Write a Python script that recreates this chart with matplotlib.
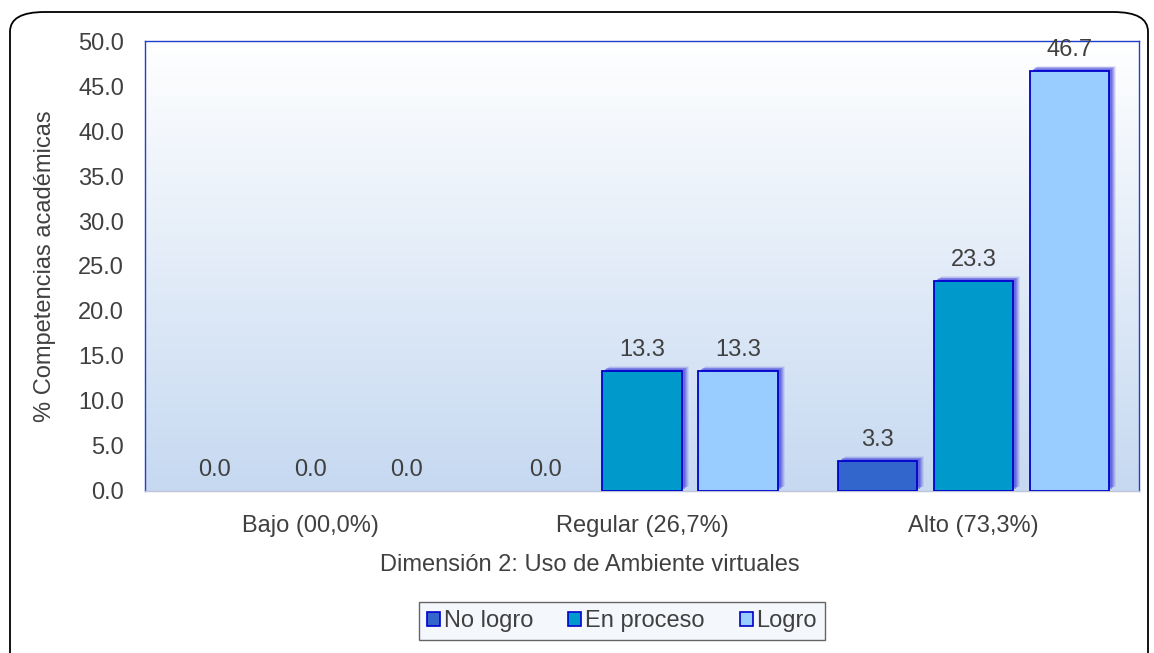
import numpy as np
import matplotlib
matplotlib.use("Agg")
import matplotlib.pyplot as plt
from matplotlib.patches import FancyBboxPatch, Rectangle
from matplotlib.transforms import ScaledTranslation

plt.rcParams['font.family'] = ['Liberation Sans', 'DejaVu Sans']

categories = ["Bajo (00,0%)", "Regular (26,7%)", "Alto (73,3%)"]
series_names = ["No logro", "En proceso", "Logro"]
no_logro = [0.0, 0.0, 3.3]
en_proceso = [0.0, 13.3, 23.3]
logro = [0.0, 13.3, 46.7]
yticks = [0, 5, 10, 15, 20, 25, 30, 35, 40, 45, 50]

colors = ["#3366CC", "#0099CC", "#99CCFF"]
edge = "#0000CC"
text_col = "#404040"
fs = 17

fig = plt.figure(figsize=(11.54, 6.53), dpi=100)
ax = fig.add_axes([0.1257, 0.2481, 0.8613, 0.6891])

# rounded outer frame
frame = FancyBboxPatch((10 / 1154, -0.05), 1138 / 1154, 1.0 - 12 / 653 + 0.05,
                       boxstyle="round,pad=0,rounding_size=0.03",
                       transform=fig.transFigure, fill=False,
                       edgecolor="black", linewidth=1.3, clip_on=False)
fig.patches.append(frame)

# gradient background
grad = np.linspace(0, 1, 256).reshape(-1, 1)
cmap = matplotlib.colors.LinearSegmentedColormap.from_list("bg", ["#C6D9F1", "#FFFFFF"])
ax.imshow(grad, aspect="auto", cmap=cmap, origin="lower",
          extent=[0, 1, 0, 1], transform=ax.transAxes, zorder=0)

x = np.arange(len(categories))
w = 0.24
step = 0.29
data = [no_logro, en_proceso, logro]

for i, (vals, c) in enumerate(zip(data, colors)):
    pos = x + (i - 1) * step
    # soft shadow behind the non-zero bars (offset up-right)
    for xp, v in zip(pos, vals):
        if v <= 0:
            continue
        for dx, dy, a in [(7, 5, 0.12), (6, 4, 0.18), (5, 3.5, 0.25), (4, 3, 0.35), (3, 2, 0.45)]:
            off = ScaledTranslation(dx / 100, dy / 100, fig.dpi_scale_trans)
            ax.add_patch(Rectangle((xp - w / 2, 0), w, v, facecolor="#5050DD",
                                   alpha=a, linewidth=0, zorder=2,
                                   transform=ax.transData + off))
    lw = [1.3 if v > 0 else 0 for v in vals]
    ax.bar(pos, vals, w, color=c, edgecolor=edge, linewidth=lw,
           label=series_names[i], zorder=3)
    for xp, v in zip(pos, vals):
        ax.text(xp, v + 1.1, f"{v:.1f}", ha="center", va="bottom",
                fontsize=fs, color=text_col, zorder=4)

ax.set_xlim(-0.5, 2.5)
ax.set_ylim(0, 50)
ax.set_yticks(yticks)
ax.set_yticklabels([f"{t:.1f}" for t in yticks])
ax.set_xticks(x)
ax.set_xticklabels(categories)
ax.tick_params(axis="both", length=0, labelsize=fs, labelcolor=text_col)
ax.tick_params(axis="x", pad=17)
ax.tick_params(axis="y", pad=15)

for s in ["left", "top", "right"]:
    ax.spines[s].set_color("#1F3FCC")
    ax.spines[s].set_linewidth(1.0)
ax.spines["bottom"].set_color("#C0C4D8")
ax.spines["bottom"].set_linewidth(1.0)

ax.set_ylabel("% Competencias académicas", fontsize=fs, color=text_col, labelpad=16)
fig.text(590 / 1154, 1 - 565 / 653, "Dimensión 2: Uso de Ambiente virtuales",
         ha="center", va="center", fontsize=fs, color=text_col)

leg = fig.legend(loc="center", bbox_to_anchor=(622 / 1154, 1 - 621 / 653),
                 ncol=3, fontsize=fs, frameon=True, fancybox=False,
                 edgecolor="#404040", facecolor="#F2F6FC", handlelength=0.55,
                 handleheight=0.55, handletextpad=0.15, columnspacing=1.5,
                 borderpad=0.35, borderaxespad=0)
leg.get_frame().set_linewidth(1.0)
for h in leg.legend_handles:
    h.set_edgecolor(edge)
    h.set_linewidth(1.2)
for t in leg.get_texts():
    t.set_color(text_col)

fig.savefig("out.png", dpi=100)
